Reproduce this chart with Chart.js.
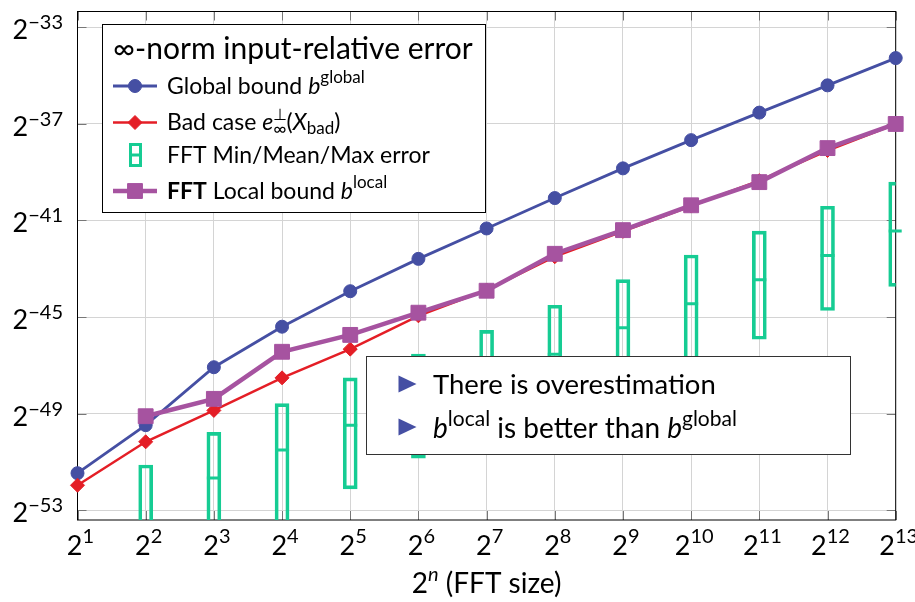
<!DOCTYPE html>
<html>
<head>
<meta charset="utf-8">
<script src="https://cdn.jsdelivr.net/npm/chart.js@4"></script>
<style>
body{margin:0;background:#fff}
</style>
</head>
<body>
<canvas id="c" width="915" height="602"></canvas>
<script>
// FFT size exponents n (x = 2^n)
const nVals=[1,2,3,4,5,6,7,8,9,10,11,12,13];

// log2 of the errors, one value per n
const globalBound=[-51.47,-49.48,-47.08,-45.40,-43.93,-42.59,-41.33,-40.07,-38.84,-37.67,-36.53,-35.40,-34.27];
const badCase=[-51.97,-50.17,-48.87,-47.52,-46.33,-44.95,-43.88,-42.50,-41.45,-40.40,-39.35,-38.10,-37.00];
const localBound=[null,-49.11,-48.39,-46.44,-45.74,-44.82,-43.91,-42.38,-41.40,-40.37,-39.41,-38.00,-37.00];

// measured FFT error boxes (n = 2..13)
const fftN=[2,3,4,5,6,7,8,9,10,11,12,13];
const fftMin=[-56.5,-55.0,-54.0,-52.12,-50.85,-49.6,-48.6,-47.6,-47.0,-45.92,-44.73,-43.73];
const fftMean=[-54.3,-51.67,-50.51,-49.48,-48.6,-47.5,-46.54,-45.44,-44.45,-43.45,-42.45,-41.44];
const fftMax=[-51.13,-49.78,-48.59,-47.52,-46.54,-45.55,-44.51,-43.45,-42.43,-41.44,-40.41,-39.41];

const yTicks=[-53,-49,-45,-41,-37,-33];
const xTicks=nVals;

const BLUE="#454fa3";
const RED="#e41e26";
const PURPLE="#a653a0";
const GREEN="#16cc93";

const FONT='Lato, "DejaVu Sans", sans-serif';

function fnt(p){
return (p.i?"italic ":"")+(p.b?"bold ":"")+p.s+"px "+FONT;
}

// text with superscripts / subscripts, drawn piece by piece
function rich(ctx,x,y,parts,align){
let w=0;
parts.forEach(p=>{
ctx.font=fnt(p);
p.w=ctx.measureText(p.t).width;
if(!p.hold) w+=p.w;
});
let cx=align==="right"?x-w:align==="center"?x-w/2:x;
parts.forEach(p=>{
ctx.font=fnt(p);
ctx.fillText(p.t,cx,y+(p.dy||0));
if(!p.hold) cx+=p.w;
});
}

const pts=(xs,ys)=>xs.map((x,i)=>({x:x,y:ys[i]})).filter(p=>p.y!==null);

const frame={
id:"frame",
beforeDatasetsDraw(chart){
const ctx=chart.ctx;
const a=chart.chartArea;
const xs=chart.scales.x, ys=chart.scales.y;
ctx.save();
ctx.strokeStyle="#777";
ctx.lineWidth=1;
ctx.beginPath();
yTicks.forEach(v=>{
const py=Math.round(ys.getPixelForValue(v))+0.5;
ctx.moveTo(a.left,py);ctx.lineTo(a.left+9,py);
ctx.moveTo(a.right-9,py);ctx.lineTo(a.right,py);
});
xTicks.forEach(v=>{
const px=Math.round(xs.getPixelForValue(v))+0.5;
ctx.moveTo(px,a.top);ctx.lineTo(px,a.top+9);
ctx.moveTo(px,a.bottom-9);ctx.lineTo(px,a.bottom);
});
ctx.stroke();
ctx.strokeStyle="#000";
ctx.strokeRect(a.left,a.top,a.right-a.left,a.bottom-a.top);
ctx.restore();
},
afterDatasetsDraw(chart){
const ctx=chart.ctx;
const a=chart.chartArea;
const xs=chart.scales.x, ys=chart.scales.y;
ctx.save();
ctx.fillStyle="#000";
ctx.textBaseline="alphabetic";

// tick labels
yTicks.forEach(v=>{
const py=ys.getPixelForValue(v);
rich(ctx,63,py+12,[{t:"2",s:27},{t:"\u2212"+(-v),s:20,dy:-10}],"right");
});
xTicks.forEach(v=>{
const px=xs.getPixelForValue(v);
rich(ctx,px+3,a.bottom+35,[{t:"2",s:27},{t:String(v),s:20,dy:-12}],"center");
});
rich(ctx,(a.left+a.right)/2,593,[{t:"2",s:28},{t:"n",s:20,i:true,dy:-12},{t:" (FFT size)",s:28}],"center");

// legend box
ctx.fillStyle="#fff";
ctx.fillRect(102,24,384,189);
ctx.strokeStyle="#000";
ctx.lineWidth=1;
ctx.strokeRect(102.5,24.5,383,188);
ctx.fillStyle="#000";
rich(ctx,113,58.5,[{t:"\u221e-norm input-relative error",s:30}]);

const ds=chart.data.datasets;
const rows=[
{d:ds[2],y:86,txt:[{t:"Global bound ",s:23},{t:"b",s:23,i:true},{t:"global",s:17,dy:-11}]},
{d:ds[1],y:122.5,txt:[{t:"Bad case ",s:23},{t:"e",s:23,i:true},{t:"\u22a5",s:16,dy:-10,hold:true},{t:"\u221e",s:18,dy:5},{t:"(",s:23},{t:"X",s:23,i:true},{t:"bad",s:17,dy:4},{t:")",s:23}]},
{box:true,y:155,txt:[{t:"FFT Min/Mean/Max error",s:23}]},
{d:ds[0],y:191,txt:[{t:"FFT",s:23,b:true},{t:" Local bound ",s:23},{t:"b",s:23,i:true},{t:"local",s:17,dy:-11}]}
];
rows.forEach(r=>{
if(r.box){
ctx.strokeStyle=GREEN;
ctx.lineWidth=3;
ctx.strokeRect(130.5,r.y-10.5,10,21);
ctx.beginPath();ctx.moveTo(130.5,r.y);ctx.lineTo(140.5,r.y);ctx.stroke();
}else{
const d=r.d;
ctx.strokeStyle=d.borderColor;
ctx.lineWidth=d.borderWidth;
ctx.beginPath();ctx.moveTo(113,r.y);ctx.lineTo(157,r.y);ctx.stroke();
ctx.fillStyle=d.backgroundColor;
ctx.strokeStyle=d.borderColor;
ctx.lineWidth=1;
Chart.helpers.drawPoint(ctx,{pointStyle:d.pointStyle,radius:d.pointRadius,rotation:0,borderWidth:1},135,r.y);
}
ctx.fillStyle="#000";
rich(ctx,167,r.y+7.5,r.txt);
});

// remark box
ctx.fillStyle="#fff";
ctx.fillRect(366,356,485,99);
ctx.strokeStyle="#333";
ctx.lineWidth=1;
ctx.strokeRect(366.5,356.5,484,98);
[384,427].forEach(cy=>{
ctx.fillStyle=BLUE;
ctx.beginPath();
ctx.moveTo(398.5,cy-8.5);ctx.lineTo(416.5,cy);ctx.lineTo(398.5,cy+8.5);ctx.closePath();ctx.fill();
});
ctx.fillStyle="#000";
rich(ctx,433,394,[{t:"There is overestimation",s:27.5}]);
rich(ctx,433,438,[{t:"b",s:28,i:true},{t:"local",s:21,dy:-12},{t:" is better than ",s:28},{t:"b",s:28,i:true},{t:"global",s:21,dy:-12}]);
ctx.restore();
}
};

new Chart(document.getElementById("c"),{
type:"line",
data:{
datasets:[
{
label:"FFT Local bound",
data:pts(nVals,localBound),
borderColor:PURPLE,
backgroundColor:PURPLE,
borderWidth:4.5,
pointStyle:"rect",
pointRadius:10.5,
pointBorderWidth:1,
order:0,
clip:false
},
{
label:"Bad case",
data:pts(nVals,badCase),
borderColor:RED,
backgroundColor:RED,
borderWidth:2.5,
pointStyle:"rectRot",
pointRadius:7,
pointBorderWidth:1,
order:1,
clip:false
},
{
label:"Global bound",
data:pts(nVals,globalBound),
borderColor:BLUE,
backgroundColor:BLUE,
borderWidth:2.8,
pointStyle:"circle",
pointRadius:6.5,
pointBorderWidth:1,
order:2,
clip:false
},
{
type:"bar",
label:"FFT Min/Max",
data:fftN.map((n,i)=>({x:n,y:[fftMin[i],fftMax[i]]})),
backgroundColor:"rgba(0,0,0,0)",
borderColor:GREEN,
borderWidth:3,
borderSkipped:false,
barThickness:14,
order:3,
clip:0
},
{
label:"FFT Mean",
data:pts(fftN,fftMean),
showLine:false,
borderColor:GREEN,
backgroundColor:GREEN,
pointStyle:"line",
pointRadius:7,
pointBorderColor:GREEN,
pointBorderWidth:3,
order:3,
clip:{left:0,top:0,right:6,bottom:0}
}
]
},
options:{
responsive:false,
animation:false,
layout:{padding:{left:77.5,top:8,right:19.3,bottom:82}},
plugins:{legend:{display:false},tooltip:{enabled:false}},
scales:{
x:{
type:"linear",
min:1,
max:13,
offset:false,
ticks:{display:false,stepSize:1},
grid:{color:"#d4d4d4",drawTicks:false,offset:false},
border:{display:false},
afterBuildTicks:s=>{s.ticks=xTicks.map(v=>({value:v}));},
afterFit:s=>{s.height=0;}
},
y:{
type:"linear",
min:-53.41,
max:-32.34,
ticks:{display:false},
grid:{color:"#d4d4d4",drawTicks:false},
border:{display:false},
afterBuildTicks:s=>{s.ticks=yTicks.map(v=>({value:v}));},
afterFit:s=>{s.width=0;}
}
}
},
plugins:[frame]
});
</script>
</body>
</html>
